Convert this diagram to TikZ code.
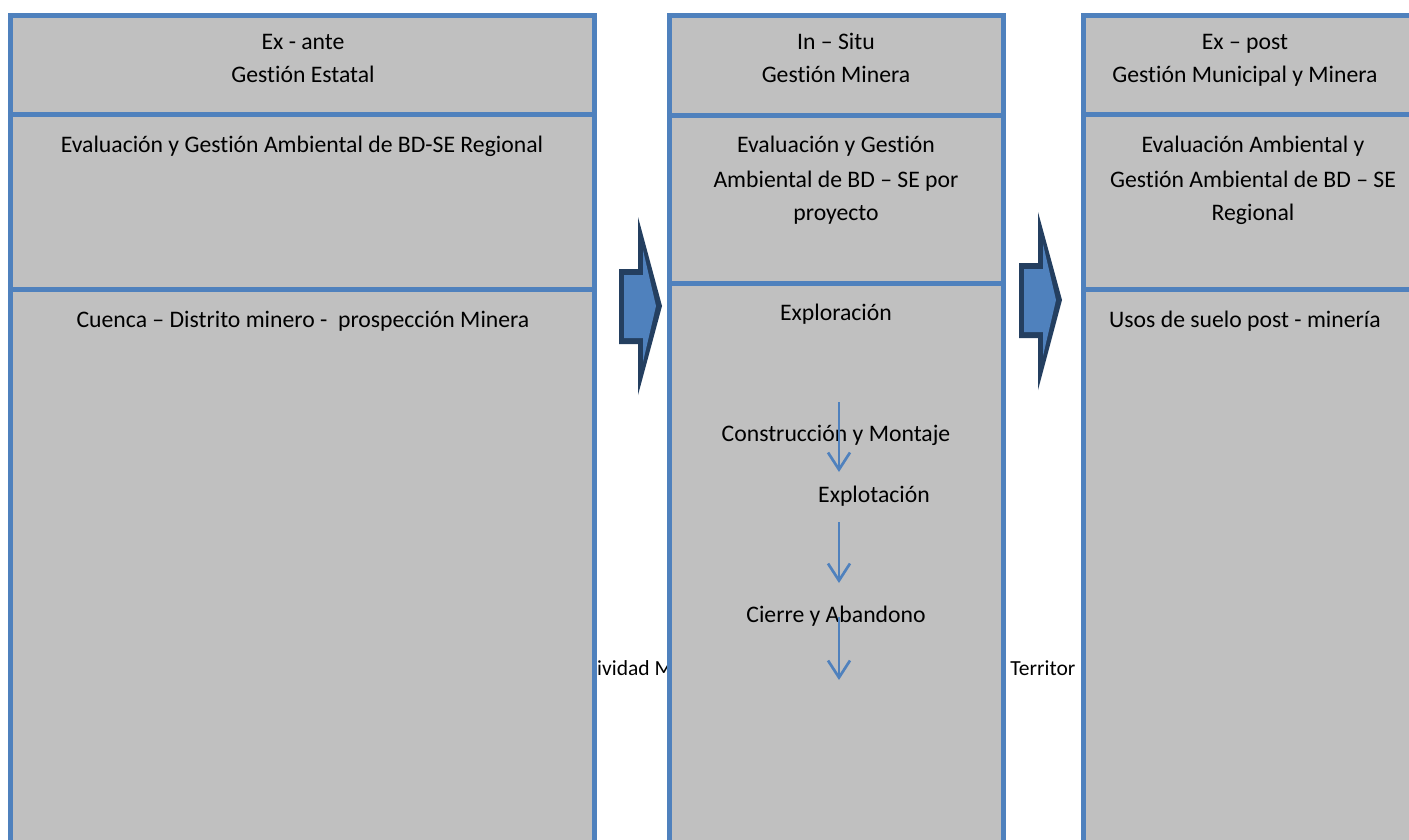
\documentclass[tikz,border=0pt]{standalone}
\usepackage{fontspec}
\setmainfont[Ligatures=NoCommon]{Carlito}
\usetikzlibrary{arrows.meta}
\definecolor{cellblue}{HTML}{4F81BD}
\definecolor{cellgray}{HTML}{C0C0C0}
\definecolor{navyline}{HTML}{243F60}
\begin{document}
\begin{tikzpicture}[x=1pt,y=-1pt,
  cell/.style={draw=cellblue, line width=5pt, fill=cellgray},
  txt/.style={anchor=base, inner sep=0pt, font=\fontsize{23.7}{33.5}\selectfont},
  hid/.style={anchor=base west, inner sep=0pt, font=\fontsize{21.5}{25}\selectfont},
  flow/.style={draw=cellblue, line width=2.7pt, -{Straight Barb[length=17pt,width=22pt]}},
  blockout/.style={fill=navyline},
  blockin/.style={fill=cellblue}]
\useasboundingbox (0,0) rectangle (1409,840);
\clip (0,0) rectangle (1409,840);
\fill[white] (0,0) rectangle (1409,840);

% text lying behind the columns
\node[hid] (hidL) at (597,675) {ividad M};
\node[hid] (hidR) at (994,675) {o Territor};

% column 1
\path[cell] (10,16) rectangle (594,115);
\path[cell] (10,115) rectangle (594,289);
\path[cell] (10,289) rectangle (594,870);
% column 2
\path[cell] (669.5,16) rectangle (1003,116);
\path[cell] (669.5,116) rectangle (1003,283);
\path[cell] (669.5,283) rectangle (1003,870);
% column 3
\path[cell] (1083,16) rectangle (1420,115);
\path[cell] (1083,115) rectangle (1420,289);
\path[cell] (1083,289) rectangle (1420,870);

% column 1 texts
\node[txt] (h1a) at (303,50) {Ex - ante};
\node[txt] (h1b) at (303,83) {Gestión Estatal};
\node[txt] (e1) at (302,153) {Evaluación y Gestión Ambiental de BD-SE Regional};
\node[txt] (c1) at (303,327) {Cuenca – Distrito minero -\ \ prospección Minera};

% column 2 texts
\node[txt] (h2a) at (836,50) {In – Situ};
\node[txt] (h2b) at (836,83) {Gestión Minera};
\node[txt] (e2a) at (836,153) {Evaluación y Gestión};
\node[txt] (e2b) at (836,187) {Ambiental de BD – SE por};
\node[txt] (e2c) at (836,220) {proyecto};
\node[txt] (p1) at (836,320) {Exploración};
\node[txt] (p2) at (836,441) {Construcción y Montaje};
\node[txt] (p3) at (874,502) {Explotación};
\node[txt] (p4) at (836,622) {Cierre y Abandono};

% column 3 texts
\node[txt] (h3a) at (1245,50) {Ex – post};
\node[txt] (h3b) at (1245,83) {Gestión Municipal y Minera};
\node[txt] (e3a) at (1253,153) {Evaluación Ambiental y};
\node[txt] (e3b) at (1253,187) {Gestión Ambiental de BD – SE};
\node[txt] (e3c) at (1253,220) {Regional};
\node[txt] (u3) at (1245,327) {Usos de suelo post - minería};

% flow arrows in column 2
\coordinate (a1s) at (839,402);
\coordinate (a1e) at (839,472);
\coordinate (a2s) at (839,522);
\coordinate (a2e) at (839,583);
\coordinate (a3s) at (839,617);
\coordinate (a3e) at (839,680);
\draw[flow] (a1s) -- (a1e);
\draw[flow] (a2s) -- (a2e);
\draw[flow] (a3s) -- (a3e);

% block arrow 1
\fill[blockout] (619,269) -- (638,269) -- (638,217) -- (662,306) -- (638,395) -- (638,344) -- (619,344) -- cycle;
\fill[blockin] (624,275) -- (643,275) -- (643,250) -- (656,306) -- (643,362) -- (643,338) -- (624,338) -- cycle;
% block arrow 2
\fill[blockout] (1019,263) -- (1038,263) -- (1038,212) -- (1062,300) -- (1038,390) -- (1038,338) -- (1019,338) -- cycle;
\fill[blockin] (1024,269) -- (1043,269) -- (1043,244) -- (1056,300) -- (1043,356) -- (1043,332) -- (1024,332) -- cycle;
\end{tikzpicture}
\end{document}
